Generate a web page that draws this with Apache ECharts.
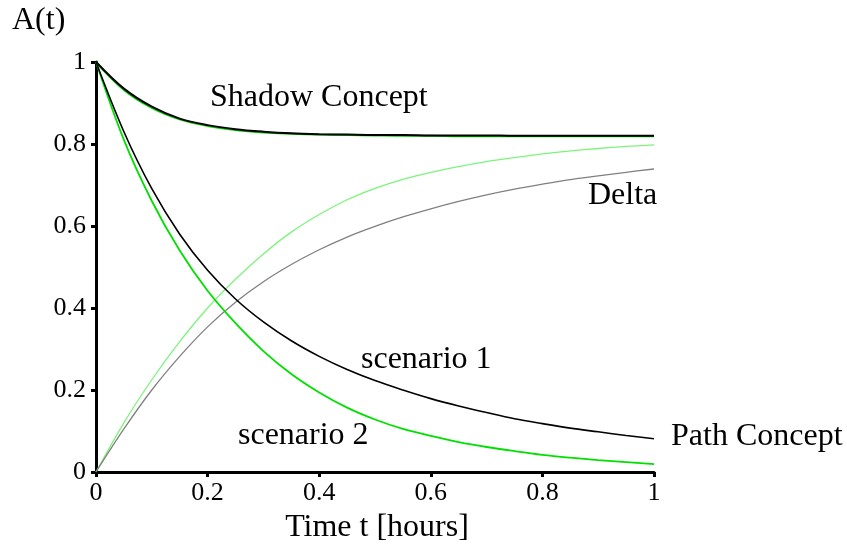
<!DOCTYPE html>
<html>
<head>
<meta charset="utf-8">
<script src="https://cdn.jsdelivr.net/npm/echarts@6/dist/echarts.min.js"></script>
<style>html,body{margin:0;padding:0;background:#fff}#c{width:847px;height:547px}</style>
</head>
<body>
<div id="c"></div>
<script>
// time samples (hours)
const times = [0,0.05,0.1,0.15,0.2,0.25,0.3,0.35,0.4,0.45,0.5,0.55,0.6,0.65,0.7,0.75,0.8,0.85,0.9,0.95,1.0];
// Shadow Concept, scenario 1 (black) and scenario 2 (green)
const shadow1 = [1,0.935,0.891,0.862,0.846,0.836,0.83,0.826,0.824,0.823,0.822,0.822,0.821,0.821,0.821,0.82,0.82,0.82,0.82,0.82,0.82];
const shadow2 = [1,0.932,0.888,0.86,0.844,0.834,0.828,0.825,0.823,0.822,0.821,0.82,0.82,0.819,0.819,0.819,0.819,0.819,0.819,0.819,0.819];
// Path Concept, scenario 1 (black) and scenario 2 (green)
const path1 = [1,0.83,0.691,0.58,0.492,0.422,0.366,0.32,0.282,0.25,0.223,0.2,0.179,0.161,0.145,0.13,0.118,0.107,0.098,0.089,0.081];
const path2 = [1,0.81,0.661,0.54,0.442,0.363,0.295,0.239,0.194,0.157,0.128,0.105,0.088,0.073,0.061,0.051,0.042,0.035,0.029,0.024,0.019];
// Delta curves (grey: scenario 1, light green: scenario 2)
const delta1 = [0,0.105,0.2,0.282,0.354,0.414,0.464,0.506,0.542,0.573,0.599,0.622,0.642,0.66,0.676,0.69,0.702,0.713,0.722,0.731,0.739];
const delta2 = [0,0.12,0.225,0.318,0.4,0.47,0.532,0.585,0.628,0.664,0.692,0.714,0.731,0.745,0.757,0.767,0.776,0.783,0.789,0.794,0.798];
const tickValues = [0,0.2,0.4,0.6,0.8,1];

const pairs = arr => times.map((t,i)=>[t,arr[i]]);
const FONT = "'Liberation Serif','Times New Roman',serif";
const chart = echarts.init(document.getElementById('c'), null, {renderer:'canvas'});

function ln(data, color, width, z){
  return {type:'line', data:pairs(data), smooth:0.35, showSymbol:false, symbol:'none',
    lineStyle:{color:color, width:width}, z:z, silent:true, animation:false};
}
const axisCommon = {
  type:'value', min:0, max:1, interval:0.2,
  axisLine:{show:true, onZero:false, lineStyle:{color:'#000', width:3}},
  axisTick:{show:true, length:5, lineStyle:{color:'#000', width:3}},
  splitLine:{show:false},
  axisLabel:{color:'#000', fontFamily:FONT, fontSize:26,
    formatter: v => { const t = tickValues.find(x=>Math.abs(x-v)<1e-9); return t===undefined?'':String(t); }}
};
chart.setOption({
  animation:false,
  grid:{left:96, top:62, width:558, height:410, containLabel:false},
  xAxis:Object.assign({}, axisCommon, {axisLabel:Object.assign({}, axisCommon.axisLabel, {margin:8})}),
  yAxis:Object.assign({}, axisCommon, {axisLabel:Object.assign({}, axisCommon.axisLabel, {margin:10})}),
  series:[
    ln(delta2,'#7cf47c',1.3,2),
    ln(delta1,'#808080',1.3,2),
    ln(path2,'#00e000',1.8,3),
    ln(path1,'#000000',1.6,4),
    ln(shadow2,'#00d400',2,5),
    ln(shadow1,'#000000',2,6)
  ],
  graphic:[
    {type:'text', left:12, top:5, style:{text:'A(t)', font:'32px '+FONT, fill:'#000'}},
    {type:'text', x:210, y:98, style:{text:'Shadow Concept', font:'32px '+FONT, fill:'#000', verticalAlign:'middle'}},
    {type:'text', x:588, y:196, style:{text:'Delta', font:'32px '+FONT, fill:'#000', verticalAlign:'middle'}},
    {type:'text', x:361, y:360, style:{text:'scenario 1', font:'32px '+FONT, fill:'#000', verticalAlign:'middle'}},
    {type:'text', x:238, y:436, style:{text:'scenario 2', font:'32px '+FONT, fill:'#000', verticalAlign:'middle'}},
    {type:'text', x:671, y:437, style:{text:'Path Concept', font:'32px '+FONT, fill:'#000', verticalAlign:'middle'}},
    {type:'text', x:377, y:528, style:{text:'Time t [hours]', font:'32px '+FONT, fill:'#000', align:'center', verticalAlign:'middle'}}
  ]
});
</script>
</body>
</html>
